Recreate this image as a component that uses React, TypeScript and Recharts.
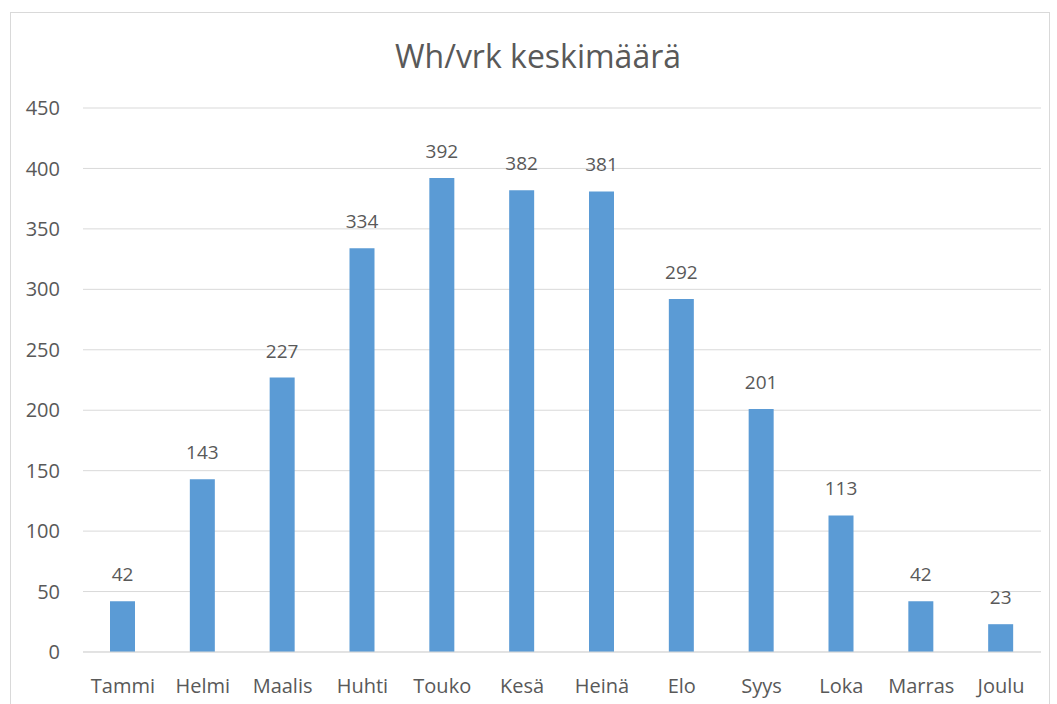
import React from "react";
import { BarChart, Bar, XAxis, YAxis, CartesianGrid, LabelList } from "recharts";

const months = ["Tammi", "Helmi", "Maalis", "Huhti", "Touko", "Kesä", "Heinä", "Elo", "Syys", "Loka", "Marras", "Joulu"];
const whPerDay = [42, 143, 227, 334, 392, 382, 381, 292, 201, 113, 42, 23];
const yTicks = [0, 50, 100, 150, 200, 250, 300, 350, 400, 450];
const title = "Wh/vrk keskimäärä";

const data = months.map((m, i) => ({ month: m, value: whPerDay[i] }));

const FONT = "'Open Sans', sans-serif";
const TEXT = "#595959";

export default function App() {
  return (
    <div style={{ position: "absolute", left: 0, top: 0, width: 1057, height: 704, background: "#fff", overflow: "hidden", fontFamily: FONT }}>
      <div style={{ position: "absolute", left: 10, top: 12, width: 1040, height: 720, border: "1px solid #d9d9d9", boxSizing: "border-box" }} />
      <div style={{ position: "absolute", left: 0, top: 34, width: 1076, textAlign: "center", fontSize: 32, color: TEXT, fontFamily: FONT, lineHeight: "44px" }}>
        {title}
      </div>
      <div style={{ position: "absolute", left: 0, top: 0 }}>
        <BarChart width={1057} height={704} data={data} margin={{ top: 108, right: 16, bottom: 22, left: 0 }}>
          <CartesianGrid vertical={false} stroke="#d9d9d9" />
          <XAxis
            dataKey="month"
            height={30}
            axisLine={{ stroke: "#d9d9d9" }}
            tickLine={false}
            tickSize={0}
            tickMargin={27}
            tick={{ fill: TEXT, fontSize: 20, fontFamily: FONT }}
            interval={0}
          />
          <YAxis
            width={83}
            domain={[0, 450]}
            ticks={yTicks}
            axisLine={false}
            tickLine={false}
            tickSize={0}
            tickMargin={23}
            tick={{ fill: TEXT, fontSize: 20, fontFamily: FONT }}
          />
          <Bar dataKey="value" fill="#5B9BD5" barSize={25} isAnimationActive={false}>
            <LabelList dataKey="value" position="top" offset={20} fill={TEXT} fontSize={19} fontFamily={FONT} />
          </Bar>
        </BarChart>
      </div>
    </div>
  );
}
